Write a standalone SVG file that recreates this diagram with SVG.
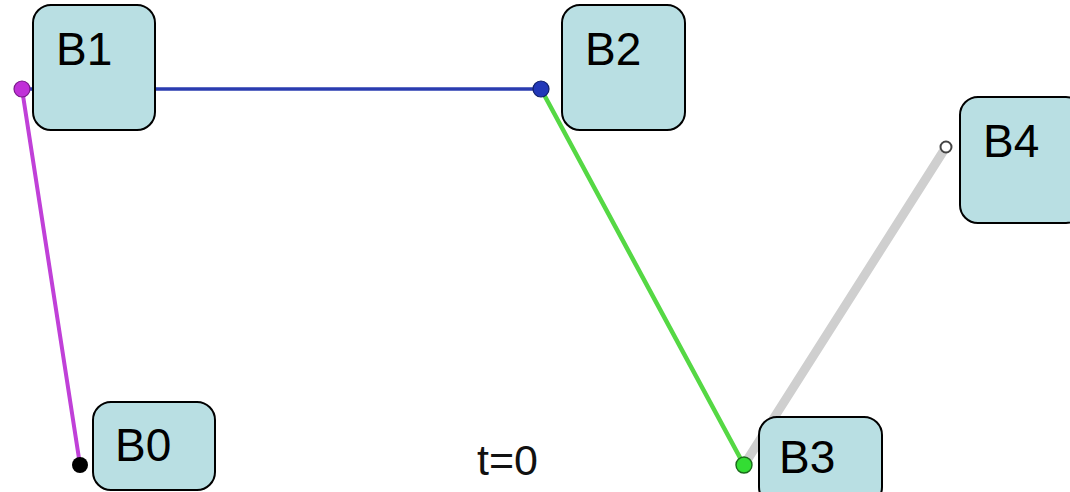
<svg xmlns="http://www.w3.org/2000/svg" width="1070" height="492" viewBox="0 0 1070 492">
  <style>
    .box { fill: #b9dfe3; stroke: #000; stroke-width: 2; }
    .lbl { font-family: "Liberation Sans", Arial, sans-serif; font-size: 46px; fill: #000; }
    .seg { fill: none; stroke-linecap: round; }
  </style>
  <rect width="1070" height="492" fill="#fff"/>

  <!-- control polygon -->
  <g id="connectors">
    <line class="seg" x1="744" y1="465" x2="946" y2="147" stroke="#cfcfcf" stroke-width="9"/>
    <line class="seg" x1="22" y1="89" x2="80" y2="465" stroke="#c040d8" stroke-width="4"/>
    <line class="seg" x1="22" y1="89" x2="541" y2="89" stroke="#2a3cb0" stroke-width="3.5"/>
    <line class="seg" x1="541" y1="89" x2="744" y2="465" stroke="#55d844" stroke-width="4.5"/>
  </g>

  <!-- control points -->
  <g id="points">
    <circle cx="22" cy="89" r="8" fill="#c030d8" stroke="#7a1a8a" stroke-width="1.2"/>
    <circle cx="541" cy="89" r="8" fill="#2238b8" stroke="#10206a" stroke-width="1.2"/>
    <circle cx="744" cy="465" r="8" fill="#33dd33" stroke="#1a6a1a" stroke-width="1.4"/>
    <circle cx="80" cy="465" r="8" fill="#000"/>
    <circle cx="946" cy="147" r="5.5" fill="#fff" stroke="#444" stroke-width="2"/>
  </g>

  <g id="B1">
    <rect class="box" x="33" y="5" width="122" height="125" rx="18"/>
    <text class="lbl" x="56" y="65">B1</text>
  </g>
  <g id="B2">
    <rect class="box" x="562" y="5" width="123" height="125" rx="18"/>
    <text class="lbl" x="585" y="65">B2</text>
  </g>
  <g id="B4">
    <rect class="box" x="960" y="97" width="124" height="126" rx="18"/>
    <text class="lbl" x="983" y="157">B4</text>
  </g>
  <g id="B0">
    <rect class="box" x="93" y="402" width="122" height="88" rx="18"/>
    <text class="lbl" x="115" y="461">B0</text>
  </g>
  <g id="B3">
    <rect class="box" x="759" y="417" width="123" height="88" rx="18"/>
    <text class="lbl" x="779" y="473">B3</text>
  </g>

  <text x="477" y="475" font-family="Liberation Sans, Arial, sans-serif" font-size="43" fill="#111">t=0</text>
</svg>
